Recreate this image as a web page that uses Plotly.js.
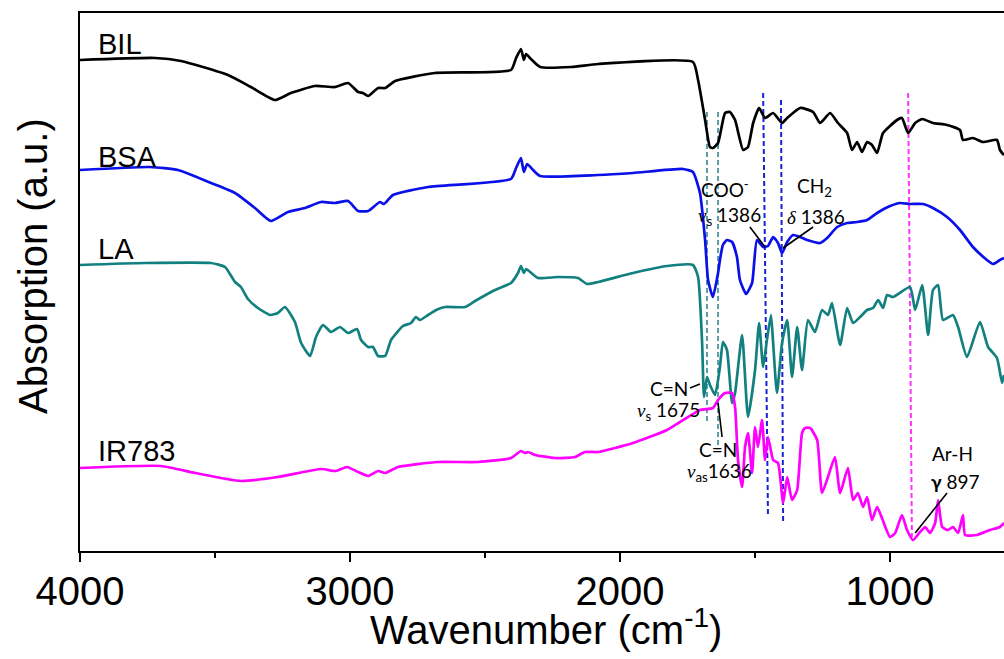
<!DOCTYPE html>
<html>
<head>
<meta charset="utf-8">
<script src="https://cdn.plot.ly/plotly-3.0.1.min.js"></script>
<style>html,body{margin:0;padding:0;background:#fff;}#chart{width:1004px;height:659px;}</style>
</head>
<body>
<div id="chart"></div>
<script>
// ---- data (wavenumber in cm^-1, absorption in arbitrary units, spectra stacked) ----
const bilWn = [4000,3722,3626,3452,3367,3278,3219,3130,3056,3007,2970,2952,2933,2896,2870,2833,2685,2404,2385,2367,2356,2348,2330,2296,2181,2081,1730,1711,1685,1667,1656,1637,1611,1593,1574,1544,1526,1507,1485,1463,1433,1400,1381,1333,1285,1259,1222,1193,1159,1141,1122,1104,1085,1067,1048,1026,974,956,933,907,881,841,789,741,730,693,656,604,593,578];
const bilAbs = [491,493,490,476,464,451,458,465,464,468,459,458,455,463,463,470,478,481,493,502,491,497,492,484,484,487,489,471,431,404,403,408,438,439,431,401,404,428,443,433,438,428,433,443,439,428,438,428,418,401,409,399,409,406,398,418,431,433,418,428,432,428,426,421,411,413,409,411,401,396];

const bsaWn = [4000,3741,3637,3515,3426,3352,3293,3230,3167,3107,3056,3007,2970,2933,2889,2874,2841,2711,2404,2385,2367,2356,2344,2322,2296,2081,1952,1767,1730,1704,1685,1674,1656,1637,1630,1619,1604,1585,1567,1556,1533,1511,1493,1470,1452,1433,1415,1400,1381,1359,1333,1307,1259,1233,1196,1159,1122,1085,1048,1000,963,926,878,841,789,741,693,641,619,593,578];
const bsaAbs = [381,384,381,368,358,343,330,339,343,349,348,350,340,340,349,347,356,364,372,383,393,379,387,381,375,376,378,382,379,358,311,271,254,278,291,306,311,309,294,271,257,268,311,304,305,314,308,298,309,316,314,311,308,313,324,328,329,331,338,345,348,347,347,343,334,321,304,291,287,291,293];

const laWn = [4000,3759,3515,3463,3426,3404,3378,3341,3296,3267,3241,3204,3181,3148,3126,3100,3070,3037,3007,2974,2959,2933,2915,2896,2870,2848,2804,2774,2756,2741,2711,2681,2648,2574,2537,2463,2404,2378,2367,2356,2348,2304,2230,2156,2122,2081,1952,1826,1730,1711,1696,1689,1678,1667,1648,1630,1619,1604,1585,1574,1548,1526,1500,1485,1470,1456,1441,1433,1419,1400,1381,1363,1344,1326,1304,1278,1252,1230,1215,1185,1159,1137,1111,1085,1063,1044,1026,1011,989,926,907,881,859,841,822,804,767,748,715,667,637,604,585,578];
const laAbs = [286,288,288,284,269,264,252,243,236,238,244,229,208,195,214,226,219,224,218,222,211,204,204,195,195,211,225,228,234,231,236,241,244,244,250,261,268,278,285,278,282,273,274,273,267,269,278,285,286,274,208,154,174,166,156,184,209,201,148,158,216,134,181,228,184,211,236,208,158,208,231,174,224,181,231,219,241,236,248,206,243,228,234,241,243,251,243,256,254,264,241,266,216,261,266,231,236,224,194,229,204,193,168,176];

const irWn = [4000,3700,3574,3404,3267,3107,3052,3011,2970,2933,2896,2870,2822,2674,2526,2404,2367,2352,2341,2315,2241,2167,2130,2081,1952,1826,1704,1656,1637,1611,1585,1574,1563,1548,1537,1526,1511,1500,1489,1474,1463,1452,1433,1415,1396,1381,1363,1344,1326,1315,1296,1270,1252,1230,1204,1185,1156,1137,1119,1100,1085,1067,1048,1030,1000,981,956,937,915,889,870,852,833,822,807,785,767,748,730,722,678,630,593,578];
const irAbs = [83,85,78,70,74,82,80,84,79,75,80,78,84,89,89,93,100,98,99,96,93,94,99,99,108,121,141,143,151,158,158,144,91,64,104,118,78,124,104,131,91,114,91,88,48,74,51,61,118,123,123,111,58,74,94,58,83,51,58,44,54,31,44,33,14,18,36,21,11,19,24,18,28,51,24,21,24,18,36,16,16,21,24,28];

const seriesNames = ['BIL','BSA','LA','IR783'];
const majorTicks = [4000,3000,2000,1000];
const minorTicks = [3500,2500,1500];

// guide lines: band positions (top / bottom of each dashed marker)
const guideWnTop    = [1678,1637,1470,1404,933];
const guideWnBottom = [1678,1637,1452,1396,919];
const guideAbsTop    = [439,439,458,451,458];
const guideAbsBottom = [128,104,34,27,14];

// leader lines for band labels: [wn start, abs start] -> [wn end, abs end]
const leaderWn1 = [1519,1285,1741,1622,789];
const leaderAbs1 = [324,324,163,114,58];
const leaderWn2 = [1463,1396,1704,1637,907];
const leaderAbs2 = [304,303,167,148,18];

// ---- styles ----
const colors = ['#000000','#0a10e8','#138080','#ff00ff'];
const guideColors = ['#5a9ea6','#5a9ea6','#1a22d8','#1a22d8','#ff33ff'];

const traces = [];
for (let i = 0; i < guideWnTop.length; i++) {
  traces.push({x:[guideWnTop[i], guideWnBottom[i]], y:[guideAbsTop[i], guideAbsBottom[i]],
    mode:'lines', line:{color:guideColors[i], width:2, dash:'5px,3px'}, showlegend:false, hoverinfo:'skip'});
}
const xs = [bilWn, bsaWn, laWn, irWn], ys = [bilAbs, bsaAbs, laAbs, irAbs];
for (let i = 0; i < 4; i++) {
  traces.push({x:xs[i], y:ys[i], name:seriesNames[i], mode:'lines',
    line:{color:colors[i], width:2.7, shape:'spline', smoothing:0.5}, showlegend:false});
}
for (let i = 0; i < leaderWn1.length; i++) {
  traces.push({x:[leaderWn1[i], leaderWn2[i]], y:[leaderAbs1[i], leaderAbs2[i]],
    mode:'lines', line:{color:'#000', width:1.6}, showlegend:false, hoverinfo:'skip'});
}
// carrier for the tick-label axis (no visible marks)
traces.push({x:[], y:[], xaxis:'x2', yaxis:'y', mode:'lines', showlegend:false, hoverinfo:'skip'});

const labelFont = {family:'Liberation Sans, Arial, sans-serif', size:29, color:'#000'};
const bandFont = {family:'Lato, Noto Sans, sans-serif', size:19, color:'#000'};
const it = s => '<span style="font-family:Liberation Serif;font-style:italic">' + s + '</span>';

const annotations = [
  {x:3941, y:507, text:'BIL', font:labelFont},
  {x:3941, y:394, text:'BSA', font:labelFont},
  {x:3941, y:302, text:'LA', font:labelFont},
  {x:3941, y:100, text:'IR783', font:labelFont},
].map(a => Object.assign(a, {xref:'x', yref:'y', xanchor:'left', yanchor:'middle', showarrow:false}));

const band = [
  {x:1611, y:363, text:'COO<sup>-</sup>'},
  {x:1593, y:335, text:it('v') + '<sub>s</sub> 1386'},
  {x:1281, y:364, text:'CH<sub>2</sub>'},
  {x:1274, y:335, text:it('δ') + ' 1386'},
  {x:1819, y:163, text:'C=N'},
  {x:1819, y:140, text:it('ν') + '<sub>s</sub> 1675'},
  {x:1637, y:102, text:'C=N'},
  {x:1633, y:79, text:it('ν') + '<sub>as</sub>1636'},
  {x:770, y:98, text:'Ar-H'},
  {x:756, y:70, text:'<b>γ</b> 897'},
].map(a => Object.assign(a, {xref:'x', yref:'y', xanchor:'center', yanchor:'middle', showarrow:false, font:bandFont}));

const axisFont = {family:'Liberation Sans, Arial, sans-serif', size:40, color:'#000'};
const yTitle = {xref:'paper', yref:'paper', x:-0.0509, y:0.5297, xanchor:'center', yanchor:'middle',
  textangle:-90, showarrow:false, text:'Absorption (a.u.)', font:axisFont};
const xTitle = {xref:'paper', yref:'paper', x:0.504, y:-0.1413, xanchor:'center', yanchor:'middle',
  showarrow:false, text:'Wavenumber (cm<sup>-1</sup>)', font:axisFont};

const layout = {
  width:1004, height:659,
  margin:{l:80, r:0, t:13, b:108},
  paper_bgcolor:'#fff', plot_bgcolor:'#fff',
  font:{family:'Liberation Sans, Arial, sans-serif', color:'#000'},
  showlegend:false,
  xaxis:{
    range:[4000,578], autorange:false,
    showline:true, linecolor:'#000', linewidth:2, mirror:true,
    showgrid:false, zeroline:false,
    ticks:'outside', ticklen:9, tickwidth:2, tickcolor:'#000',
    tickvals:majorTicks, showticklabels:false,
    minor:{tickvals:minorTicks, ticks:'outside', ticklen:5, tickwidth:2, tickcolor:'#000', showgrid:false}
  },
  xaxis2:{
    overlaying:'x', anchor:'y', side:'bottom',
    range:[4000,578], autorange:false,
    showline:false, showgrid:false, zeroline:false,
    ticks:'outside', ticklen:5, tickcolor:'rgba(0,0,0,0)',
    tickvals:majorTicks, ticktext:majorTicks.map(String), tickfont:axisFont
  },
  yaxis:{
    range:[0,538], autorange:false,
    showline:true, linecolor:'#000', linewidth:2, mirror:false,
    showgrid:false, zeroline:false, showticklabels:false, ticks:''
  },
  annotations: annotations.concat(band, [yTitle, xTitle])
};

Plotly.newPlot('chart', traces, layout, {staticPlot:true, displayModeBar:false});
</script>
</body>
</html>
